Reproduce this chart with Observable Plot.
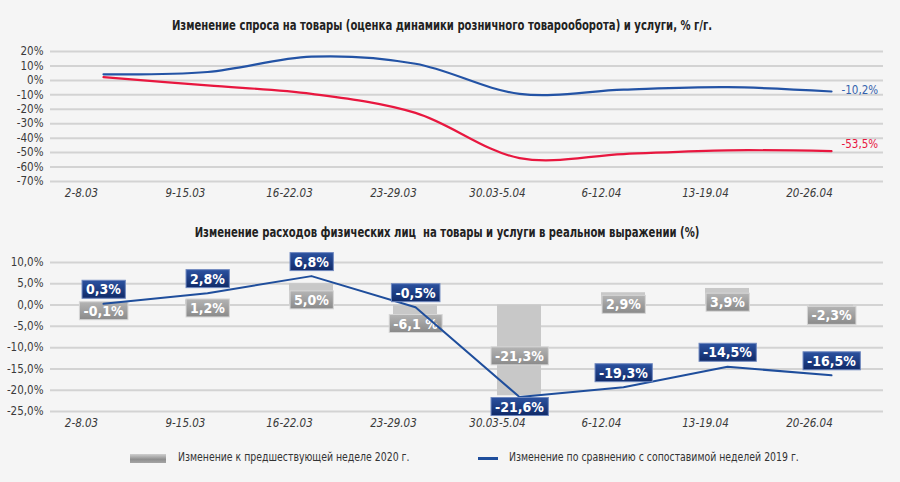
<!DOCTYPE html>
<html>
<head>
<meta charset="utf-8">
<script src="https://cdn.jsdelivr.net/npm/d3@7"></script>
<script src="https://cdn.jsdelivr.net/npm/@observablehq/plot@0.6"></script>
<style>
  html, body { margin: 0; padding: 0; }
  body {
    width: 900px; height: 482px; overflow: hidden; position: relative;
    background: #f5f5f5;
    font-family: "DejaVu Sans Condensed", "Liberation Sans Narrow", sans-serif;
    color: #333;
  }
  .title { position: absolute; width: 900px; text-align: center; font-weight: bold; font-size: 14px; color: #222; white-space: nowrap; transform: scaleX(0.8); transform-origin: 50% 50%; }
  #t1 { top: 17px; left: -8px; }
  #t2 { top: 224px; left: -3px; }
  #c1 { position: absolute; left: 0; top: 40px; }
  #c2 { position: absolute; left: 0; top: 250px; }
  .leg { position: absolute; font-size: 13px; color: #333; white-space: nowrap; transform: scaleX(0.8); transform-origin: 0 50%; }
  #sw1 { position: absolute; left: 130px; top: 454px; width: 36px; height: 9px; background: linear-gradient(to bottom, #cfcfcf, #8f8f8f 60%, #a5a5a5); }
  #sw2 { position: absolute; left: 478px; top: 457px; width: 20px; height: 2.5px; background: #1f4e9c; }
  #l1 { left: 178px; top: 449px; }
  #l2 { left: 509px; top: 449px; }
</style>
</head>
<body>
<div class="title" id="t1">Изменение спроса на товары (оценка динамики розничного товарооборота) и услуги, % г/г.</div>
<div id="c1"></div>
<div class="title" id="t2">Изменение расходов физических лиц&nbsp; на товары и услуги в реальном выражении (%)</div>
<div id="c2"></div>
<div id="sw1"></div><div class="leg" id="l1">Изменение к предшествующей неделе 2020 г.</div>
<div id="sw2"></div><div class="leg" id="l2">Изменение по сравнению с сопоставимой неделей 2019 г.</div>
<script>
// ---- data ----
const weeks = ["2-8.03", "9-15.03", "16-22.03", "23-29.03", "30.03-5.04", "6-12.04", "13-19.04", "20-26.04"];
// top chart: demand change, % y/y
const demandBlue = [4.2, 5.8, 16.4, 11.5, -9.3, -6.4, -4.7, -7.7];
const demandRed  = [2.3, -3.5, -9.3, -22.5, -53.8, -51.0, -48.4, -49.0];
const endLabels  = ["-10,2%", "-53,5%"];
const topTicks = [20, 10, 0, -10, -20, -30, -40, -50, -60, -70];
// bottom chart: spending change
const weekOverWeek = [-0.1, 1.2, 5.0, -6.1, -21.3, 2.9, 3.9, -2.3];
const vs2019       = [0.3, 2.8, 6.8, -0.5, -21.6, -19.3, -14.5, -16.5];
const bottomTicks = [10, 5, 0, -5, -10, -15, -20, -25];

const FONT = '"DejaVu Sans Condensed", "Liberation Sans Narrow", sans-serif';
const BLUE = "#2353a5", RED = "#e8173f", LINE2 = "#1f4e9c";
const comma = (v, d) => v.toFixed(d).replace(".", ",");

// ---- top chart ----
const topRows = [];
weeks.forEach((w, i) => {
  topRows.push({week: w, v: demandBlue[i], s: "blue"});
  topRows.push({week: w, v: demandRed[i], s: "red"});
});
const lastRows = [
  {week: weeks[weeks.length - 1], v: demandBlue[demandBlue.length - 1], label: endLabels[0], s: "blue"},
  {week: weeks[weeks.length - 1], v: demandRed[demandRed.length - 1], label: endLabels[1], s: "red"}
];

const topChart = Plot.plot({
  width: 900, height: 170,
  marginLeft: 50, marginRight: 17, marginTop: 11, marginBottom: 29,
  style: {background: "transparent", fontFamily: FONT, color: "#3a3a3a", overflow: "visible"},
  x: {type: "band", domain: weeks, padding: 0, label: null},
  y: {domain: [-70, 20], label: null},
  marks: [
    Plot.gridY(topTicks, {stroke: "#d3d3d3", strokeOpacity: 1, strokeWidth: 2}),
    Plot.axisY(topTicks, {tickSize: 0, tickPadding: 7, tickFormat: d => d + "%", fontSize: 11.5, label: null}),
    Plot.axisX({tickSize: 0, tickPadding: 7, dx: -22, fontStyle: "italic", fontSize: 11.5, label: null}),
    Plot.line(topRows, {x: "week", y: "v", z: "s", stroke: d => d.s === "blue" ? BLUE : RED, strokeWidth: 2.2, curve: "catmull-rom"}),
    Plot.text(lastRows.filter(d => d.s === "blue"), {x: "week", y: "v", text: "label", textAnchor: "start", dx: 10, dy: -1, fill: "#3462ad", fontSize: 11.5}),
    Plot.text(lastRows.filter(d => d.s === "red"), {x: "week", y: "v", text: "label", textAnchor: "start", dx: 10, dy: -7, fill: RED, fontSize: 11.5})
  ]
});
document.getElementById("c1").appendChild(topChart);

// ---- bottom chart ----
const botRows = weeks.map((w, i) => ({
  week: w, wow: weekOverWeek[i], y19: vs2019[i],
  wowLabel: (weekOverWeek[i] === -6.1 ? comma(weekOverWeek[i], 1) + " %" : comma(weekOverWeek[i], 1) + "%"),
  y19Label: comma(vs2019[i], 1) + "%"
}));
const minY19 = d3.min(vs2019);

const bottomChart = Plot.plot({
  width: 900, height: 190,
  marginLeft: 50, marginRight: 17, marginTop: 12, marginBottom: 29,
  style: {background: "transparent", fontFamily: FONT, color: "#3a3a3a", overflow: "visible"},
  x: {type: "band", domain: weeks, padding: 0, label: null},
  y: {domain: [-25, 10], label: null},
  marks: [
    Plot.gridY(bottomTicks, {stroke: "#d3d3d3", strokeOpacity: 1, strokeWidth: 2}),
    Plot.axisY(bottomTicks, {tickSize: 0, tickPadding: 7, tickFormat: d => comma(d, 1) + "%", fontSize: 11.5, label: null}),
    Plot.axisX({tickSize: 0, tickPadding: 7, dx: -22, fontStyle: "italic", fontSize: 11.5, label: null}),
    Plot.barY(botRows, {x: "week", y: "wow", fill: "#c8c8c8", insetLeft: 30, insetRight: 30}),
    Plot.text(botRows, {x: "week", y: d => d.wow * 0.5 - 1.4, text: "wowLabel", fill: "white", fontWeight: "bold", fontSize: 14, ariaDescription: "grey-label"}),
    Plot.line(botRows, {x: "week", y: "y19", stroke: LINE2, strokeWidth: 2}),
    Plot.text(botRows.filter(d => d.y19 !== minY19), {x: "week", y: "y19", dy: -14, text: "y19Label", fill: "white", fontWeight: "bold", fontSize: 14, ariaDescription: "blue-label"}),
    Plot.text(botRows.filter(d => d.y19 === minY19), {x: "week", y: "y19", dy: 10, text: "y19Label", fill: "white", fontWeight: "bold", fontSize: 14, ariaDescription: "blue-label"})
  ]
});
document.getElementById("c2").appendChild(bottomChart);

// gradients + label boxes sized from the rendered text
function addGrad(svg, id, c1, c2) {
  let defs = d3.select(svg).select("defs");
  if (defs.empty()) defs = d3.select(svg).insert("defs", ":first-child");
  const g = defs.append("linearGradient").attr("id", id).attr("x1", 0).attr("y1", 0).attr("x2", 0).attr("y2", 1);
  g.append("stop").attr("offset", "0%").attr("stop-color", c1);
  g.append("stop").attr("offset", "100%").attr("stop-color", c2);
}
addGrad(bottomChart, "navy", "#2c52a0", "#102a68");
addGrad(bottomChart, "greybox", "#b4b4b4", "#8a8a8a");
function boxes(svg, label, fill, stroke) {
  const groups = Array.from(svg.querySelectorAll("g")).filter(g => g.getAttribute("aria-description") === label);
  groups.forEach(g => {
    Array.from(g.querySelectorAll("text")).forEach(text => {
      const b = text.getBBox();
      const r = document.createElementNS("http://www.w3.org/2000/svg", "rect");
      r.setAttribute("x", b.x - 4);
      r.setAttribute("y", b.y - 1);
      r.setAttribute("width", b.width + 8);
      r.setAttribute("height", b.height + 2);
      r.setAttribute("fill", fill);
      if (stroke) { r.setAttribute("stroke", stroke); r.setAttribute("stroke-width", 1); }
      const t = text.getAttribute("transform");
      if (t) r.setAttribute("transform", t);
      text.parentNode.insertBefore(r, text);
    });
  });
}
boxes(bottomChart, "grey-label", "url(#greybox)", "#d6d6d6");
boxes(bottomChart, "blue-label", "url(#navy)", "#6f88bf");
</script>
</body>
</html>
